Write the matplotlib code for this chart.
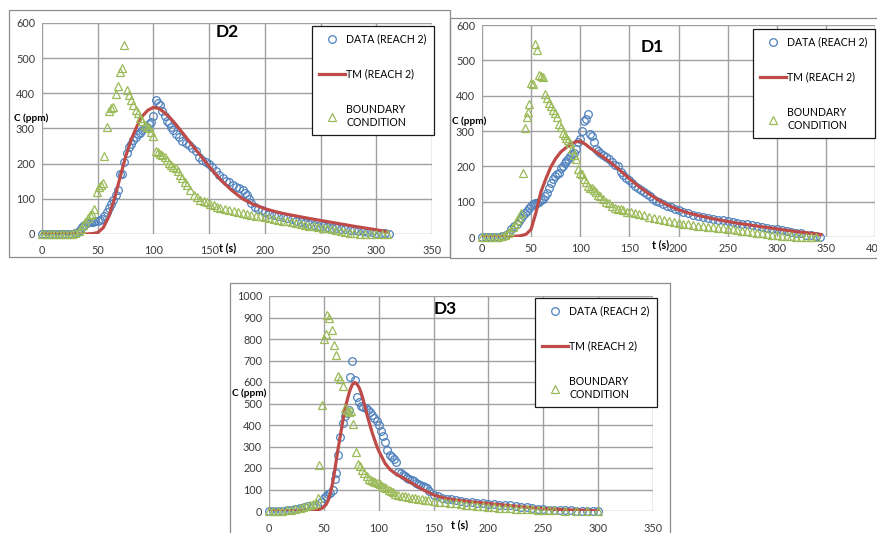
import matplotlib
matplotlib.use("Agg")
import matplotlib.pyplot as plt
from matplotlib.patches import Rectangle
from matplotlib.lines import Line2D

plt.rcParams['font.family'] = ['Lato', 'DejaVu Sans']

W, H = 878, 533

# ---------------- D2 ----------------
d2_data_t = [0, 3, 6, 9, 12, 15, 18, 21, 24, 27,
             30, 32, 34, 36, 38, 40, 42, 44, 46, 48,
             50, 52, 54, 56, 58, 60, 62, 64, 66, 68,
             70, 72, 74, 76, 78, 80, 82, 84, 86, 88,
             90, 92, 94, 96, 98, 100, 102, 104, 106, 108,
             110, 112, 114, 116, 118, 120, 123, 126, 129, 132,
             135, 138, 141, 144, 147, 150, 153, 156, 159, 162,
             165, 168, 171, 174, 177, 180, 182, 184, 186, 188,
             191, 194, 197, 200, 204, 208, 212, 216, 220, 224,
             228, 232, 236, 240, 244, 248, 252, 256, 260, 264,
             268, 272, 276, 280, 284, 288, 292, 296, 300, 304,
             308, 311]
d2_data_c = [0, 0, 0, 0, 0, 0, 0, 0, 0, 0,
             2, 5, 12, 20, 26, 30, 33, 35, 35, 36,
             38, 40, 42, 50, 63, 75, 85, 97, 110, 125,
             170, 172, 206, 230, 248, 255, 268, 275, 283, 288,
             295, 300, 305, 312, 318, 335, 380, 372, 366, 350,
             335, 322, 315, 305, 295, 285, 275, 265, 258, 252,
             245, 235, 220, 210, 205, 198, 190, 180, 168, 158,
             152, 148, 140, 135, 130, 125, 118, 110, 100, 88,
             78, 72, 68, 62, 58, 55, 52, 48, 45, 42,
             38, 35, 32, 28, 26, 24, 22, 20, 18, 17,
             15, 13, 12, 10, 9, 8, 6, 5, 4, 3,
             2, 1]
d2_tm_t = [0, 30, 40, 45, 50, 55, 60, 65, 70, 75, 80, 85, 90, 95, 100, 105, 110,
           115, 120, 130, 140, 150, 160, 170, 180, 190, 200, 210, 220, 240, 260,
           280, 300, 310]
d2_tm_c = [0, 0, 0, 1, 4, 18, 50, 100, 160, 220, 268, 305, 335, 352, 360, 357, 345,
           330, 312, 272, 232, 192, 155, 125, 100, 84, 72, 63, 56, 44, 33,
           22, 12, 6]
d2_bc_t = [0, 3, 6, 9, 12, 15, 18, 21, 24, 27,
           30, 33, 35, 37, 39, 41, 43, 45, 47, 49,
           51, 53, 55, 56, 58, 60, 62, 64, 66, 68,
           70, 72, 74, 76, 78, 80, 82, 84, 86, 88,
           90, 92, 94, 96, 98, 100, 102, 104, 106, 108,
           110, 112, 114, 116, 118, 120, 122, 124, 126, 128,
           130, 133, 136, 139, 142, 145, 148, 151, 154, 157,
           160, 164, 168, 172, 176, 180, 184, 188, 192, 196,
           200, 204, 208, 212, 216, 220, 224, 228, 232, 236,
           240, 244, 248, 252, 256, 260, 264, 268, 272, 276,
           280, 285, 290, 295, 300, 305, 310]
d2_bc_c = [0, 0, 0, 0, 0, 0, 0, 0, 0, 0,
           2, 8, 15, 25, 35, 45, 55, 58, 70, 120,
           135, 140, 145, 222, 305, 350, 357, 362, 398, 422,
           460, 471, 537, 409, 395, 380, 367, 353, 343, 330,
           320, 310, 305, 300, 290, 280, 237, 232, 228, 224,
           218, 210, 203, 196, 190, 187, 178, 168, 158, 148,
           140, 125, 112, 105, 98, 93, 90, 86, 82, 78,
           75, 72, 69, 66, 63, 60, 57, 54, 52, 50,
           48, 46, 44, 41, 38, 36, 33, 30, 28, 26,
           24, 22, 20, 18, 16, 14, 12, 9, 6, 4,
           2, 1, 1, 0, 0, 0, 0]

# ---------------- D1 ----------------
d1_data_t = [0, 4, 8, 12, 16, 20, 24, 27, 30, 33,
             36, 38, 40, 42, 44, 46, 48, 50, 52, 54,
             56, 58, 60, 62, 64, 66, 68, 70, 72, 74,
             76, 78, 80, 82, 84, 86, 88, 90, 92, 94,
             96, 98, 100, 102, 104, 106, 108, 110, 112, 114,
             116, 118, 120, 123, 126, 129, 132, 135, 138, 141,
             144, 147, 150, 153, 156, 159, 162, 165, 168, 171,
             174, 177, 180, 184, 188, 192, 196, 200, 205, 210,
             215, 220, 225, 230, 235, 240, 245, 250, 255, 260,
             265, 270, 275, 280, 285, 290, 295, 300, 305, 310,
             315, 320, 325, 330, 335, 340, 344]
d1_data_c = [0, 0, 0, 0, 0, 2, 5, 12, 22, 30,
             38, 45, 55, 62, 68, 74, 82, 88, 92, 95,
             97, 100, 105, 108, 115, 125, 140, 153, 165, 172,
             178, 181, 195, 200, 210, 215, 222, 230, 235, 238,
             250, 270, 277, 300, 327, 333, 348, 292, 285, 270,
             250, 242, 238, 232, 226, 220, 212, 205, 200, 185,
             175, 168, 160, 152, 145, 138, 132, 128, 122, 115,
             108, 103, 98, 93, 88, 85, 80, 76, 72, 67,
             62, 59, 56, 53, 51, 49, 47, 45, 43, 41,
             38, 36, 33, 31, 29, 26, 24, 22, 20, 18,
             15, 12, 10, 7, 5, 3, 0]
d1_tm_t = [0, 25, 30, 35, 40, 45, 50, 55, 60, 65, 70, 75, 80, 85, 90, 95, 100,
           105, 110, 120, 130, 140, 150, 160, 170, 180, 190, 200, 210, 220, 240,
           260, 280, 300, 320, 340, 345]
d1_tm_c = [0, 0, 1, 2, 4, 8, 22, 70, 128, 165, 198, 222, 240, 252, 262, 269, 271,
           263, 252, 233, 213, 190, 165, 142, 122, 104, 89, 77, 68, 61, 49,
           39, 31, 23, 15, 9, 7]
d1_bc_t = [0, 4, 8, 12, 16, 20, 23, 26, 29, 32,
           34, 36, 38, 40, 42, 44, 46, 47, 48, 50,
           52, 54, 56, 58, 60, 62, 64, 66, 68, 70,
           72, 74, 76, 78, 80, 82, 84, 86, 88, 90,
           92, 94, 96, 98, 100, 102, 104, 106, 108, 110,
           112, 114, 116, 118, 120, 123, 126, 129, 132, 135,
           138, 141, 144, 148, 152, 156, 160, 165, 170, 175,
           180, 185, 190, 195, 200, 205, 210, 215, 220, 225,
           230, 235, 240, 245, 250, 255, 260, 265, 270, 275,
           280, 285, 290, 295, 300, 305, 310, 315, 320, 325,
           330, 335, 340]
d1_bc_c = [0, 0, 0, 0, 0, 2, 5, 10, 18, 28,
           38, 48, 56, 69, 180, 308, 339, 353, 376, 435,
           433, 547, 528, 459, 455, 452, 405, 392, 378, 370,
           360, 352, 340, 320, 310, 295, 290, 280, 275, 265,
           250, 231, 220, 193, 180, 178, 165, 155, 145, 140,
           138, 132, 128, 120, 115, 108, 100, 95, 88, 83,
           80, 78, 76, 72, 70, 67, 65, 62, 58, 55,
           52, 49, 46, 43, 40, 38, 36, 34, 32, 30,
           29, 27, 26, 25, 24, 22, 20, 18, 16, 14,
           12, 10, 8, 7, 5, 4, 3, 2, 1, 0,
           0, 0, 0]

# ---------------- D3 ----------------
d3_data_t = [0, 4, 8, 12, 16, 20, 24, 28, 32, 36,
             40, 44, 47, 50, 52, 54, 56, 58, 60, 61,
             63, 65, 67, 69, 71, 73, 74, 76, 78, 80,
             82, 84, 86, 88, 90, 92, 94, 96, 98, 100,
             102, 104, 106, 108, 110, 112, 114, 116, 118, 120,
             122, 124, 126, 128, 130, 132, 134, 136, 138, 140,
             142, 144, 146, 150, 154, 158, 162, 166, 170, 175,
             180, 185, 190, 195, 200, 205, 210, 215, 220, 225,
             230, 235, 240, 245, 250, 255, 260, 265, 270, 275,
             280, 285, 290, 295, 300]
d3_data_c = [0, 0, 0, 2, 4, 6, 10, 15, 20, 22,
             25, 30, 40, 60, 72, 80, 85, 100, 148, 178,
             262, 345, 410, 440, 455, 470, 623, 696, 611, 530,
             505, 490, 485, 478, 470, 462, 448, 432, 418, 400,
             372, 350, 322, 285, 262, 250, 240, 228, 180, 175,
             168, 162, 155, 150, 145, 138, 130, 125, 120, 115,
             110, 105, 95, 75, 68, 62, 58, 54, 50, 46,
             42, 40, 38, 36, 34, 32, 30, 28, 26, 23,
             20, 17, 14, 11, 8, 6, 5, 5, 4, 3,
             2, 1, 0, 0, 0]
d3_tm_t = [0, 35, 40, 45, 48, 50, 52, 54, 56, 58, 60, 62, 64, 66, 68, 70, 72, 74,
           76, 78, 80, 82, 84, 86, 88, 90, 92, 94, 96, 98, 100, 103, 106, 110,
           114, 118, 122, 130, 140, 150, 160, 170, 180, 190, 200, 220, 240, 260,
           280, 300]
d3_tm_c = [0, 0, 2, 6, 12, 20, 30, 50, 85, 130, 190, 260, 320, 380, 440, 490, 530, 565,
           588, 598, 592, 575, 550, 515, 475, 435, 400, 365, 335, 305, 280, 250, 220, 195,
           178, 165, 155, 130, 100, 75, 60, 52, 45, 40, 35, 25, 15, 8,
           4, 1]
d3_bc_t = [0, 4, 8, 12, 16, 20, 24, 28, 31, 34,
           37, 40, 43, 45, 46, 48, 50, 52, 53, 55,
           57, 59, 61, 63, 65, 67, 69, 71, 73, 75,
           77, 79, 81, 83, 85, 87, 89, 91, 93, 95,
           97, 99, 101, 103, 105, 107, 109, 111, 113, 115,
           118, 121, 124, 127, 130, 133, 136, 139, 142, 145,
           150, 155, 160, 165, 170, 175, 180, 185, 190, 195,
           200, 205, 210, 215, 220, 225, 230, 235, 240, 245,
           250, 255, 260, 270, 280, 290, 300]
d3_bc_c = [0, 0, 0, 2, 4, 6, 8, 12, 18, 25,
           30, 32, 35, 60, 215, 495, 800, 825, 913, 900,
           840, 770, 725, 630, 615, 580, 480, 470, 460, 465,
           405, 275, 220, 210, 190, 178, 165, 150, 145, 140,
           135, 130, 125, 118, 110, 105, 100, 95, 88, 80,
           75, 70, 68, 65, 62, 60, 58, 55, 52, 50,
           46, 43, 40, 38, 35, 32, 30, 28, 25, 22,
           20, 18, 16, 14, 12, 11, 10, 8, 7, 6,
           5, 4, 3, 2, 1, 0, 0]

legend_labels = ['DATA (REACH 2)', 'TM (REACH 2)', 'BOUNDARY\nCONDITION']

BLUE = '#4f81bd'
RED = '#be4b48'
GREEN = '#9bbb59'
GRID = '#a0a0a0'

fig = plt.figure(figsize=(W / 100, H / 100), dpi=100)


def fx(px):
    return px / W


def fy(py):
    return 1 - py / H


def frame(x0, y0, x1, y1):
    fig.add_artist(Rectangle((fx(x0), fy(y1)), fx(x1 - x0), (y1 - y0) / H,
                             transform=fig.transFigure, fill=False,
                             edgecolor='#8c8c8c', lw=0.9))


def panel(box, xmax, ymax, ystep, series, title, title_xy, leg_xy, ylab_xy, tlab_xy, xpad):
    # box = plot area in pixels (left, top, right, bottom)
    l, t, r, b = box
    ax = fig.add_axes([fx(l), fy(b), (r - l) / W, (b - t) / H])
    dt, dc, tt, tc, bt, bc = series
    ax.plot(dt, dc, 'o', mfc='none', mec=BLUE, ms=5.5, mew=0.9, clip_on=False)
    ax.plot(tt, tc, '-', color=RED, lw=2.3)
    ax.plot(bt, bc, '^', mfc='none', mec=GREEN, ms=6, mew=0.9, clip_on=False)
    ax.set_xlim(0, xmax)
    ax.set_ylim(0, ymax)
    ax.set_xticks(range(0, xmax + 1, 50))
    ax.set_yticks(range(0, ymax + 1, ystep))
    ax.grid(True, color=GRID, lw=1.0)
    ax.set_axisbelow(True)
    for s in ax.spines.values():
        s.set_visible(False)
    ax.tick_params(length=0, labelsize=7.8, labelcolor='#3a3a3a')
    ax.tick_params(axis='x', pad=xpad)
    ax.tick_params(axis='y', pad=5)
    fig.text(fx(title_xy[0]), fy(title_xy[1]), title, fontsize=12.5, fontweight='bold',
             ha='center', va='center')
    fig.text(fx(ylab_xy[0]), fy(ylab_xy[1]), 'C (ppm)', fontsize=7.2, fontweight='bold',
             ha='left', va='center')
    fig.text(fx(tlab_xy[0]), fy(tlab_xy[1]), 't (s)', fontsize=7.8, fontweight='bold',
             ha='center', va='center')
    handles = [Line2D([], [], ls='none', marker='o', mfc='none', mec=BLUE, ms=5.5, mew=0.9),
               Line2D([], [], color=RED, lw=2.3),
               Line2D([], [], ls='none', marker='^', mfc='none', mec=GREEN, ms=6, mew=0.9)]
    leg = ax.legend(handles, legend_labels, loc='upper left',
                    bbox_to_anchor=(fx(leg_xy[0]), fy(leg_xy[1])),
                    bbox_transform=fig.transFigure, fontsize=7.6, labelspacing=2.3,
                    handlelength=2.4, handletextpad=0.15, borderpad=0.7,
                    borderaxespad=0, fancybox=False, framealpha=1, numpoints=1)
    leg.get_frame().set_edgecolor('#1a1a1a')
    leg.get_frame().set_linewidth(0.9)
    return ax


frame(9, 10, 450, 257)
frame(450, 18, 890, 258)
frame(230, 283, 670, 545)

panel((42, 23, 432, 234), 350, 600, 100,
      (d2_data_t, d2_data_c, d2_tm_t, d2_tm_c, d2_bc_t, d2_bc_c),
      'D2', (227, 32), (312, 26), (14, 118), (228, 248), 8)
panel((482, 25, 875, 237), 400, 600, 100,
      (d1_data_t, d1_data_c, d1_tm_t, d1_tm_c, d1_bc_t, d1_bc_c),
      'D1', (652, 47), (753, 29), (452, 121), (661, 245), 4.5)
panel((269, 296, 653, 511), 350, 1000, 100,
      (d3_data_t, d3_data_c, d3_tm_t, d3_tm_c, d3_bc_t, d3_bc_c),
      'D3', (445, 309), (535, 298), (232, 393), (460, 525), 8.5)

fig.savefig('out.png', dpi=100)
